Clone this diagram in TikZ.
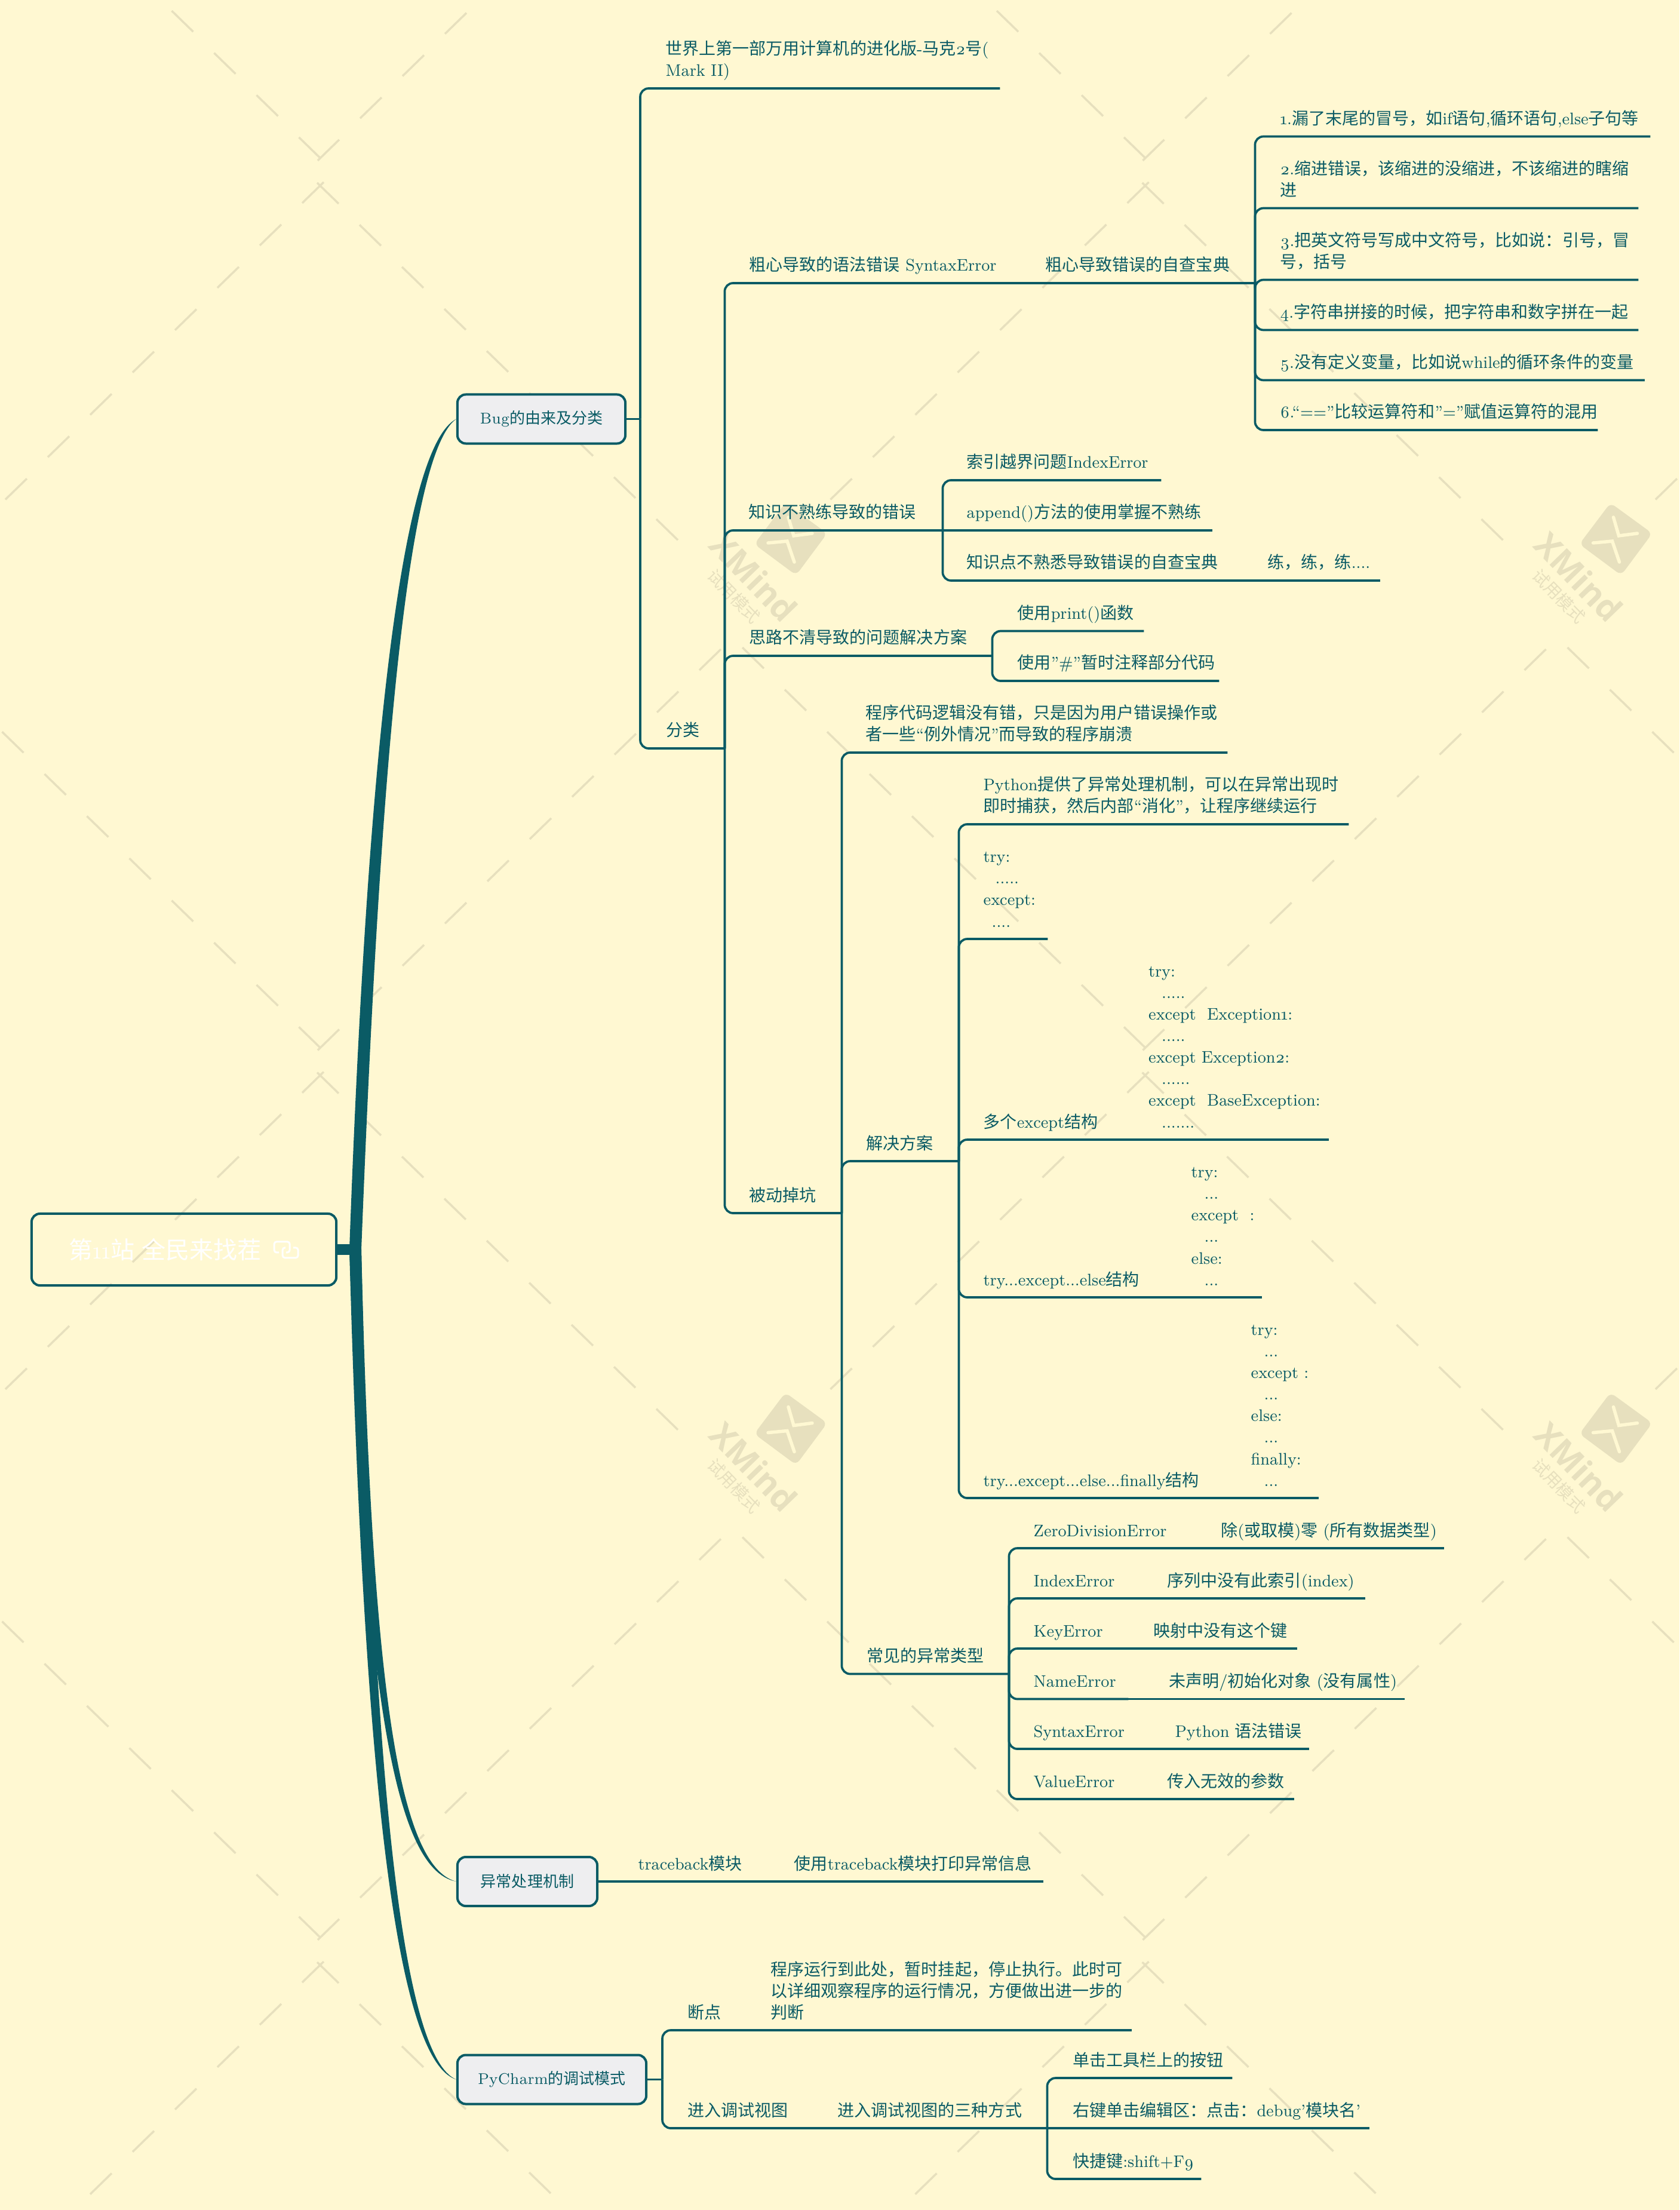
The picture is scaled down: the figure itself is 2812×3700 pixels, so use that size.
\documentclass[tikz,border=0pt]{standalone}
\usepackage{fontspec}
\setmainfont[Numbers=OldStyle,FakeStretch=0.95]{Latin Modern Roman}
\newfontfamily\zhfont{Noto Sans CJK SC}
\newfontfamily\logofont{Open Sans}
\usepackage{xcolor}
\definecolor{paper}{RGB}{255,248,210}
\definecolor{teal}{RGB}{10,91,101}
\definecolor{wmcol}{RGB}{231,224,190}
\definecolor{mainfill}{RGB}{238,238,240}

% Chinese characters switch to the CJK family by themselves
\newcount\zhcode
\def\zhrange#1#2{\zhcode=#1 \loop\XeTeXcharclass\zhcode=10 \ifnum\zhcode<#2 \advance\zhcode by 1 \repeat}
\zhrange{"3000}{"303F}
\zhrange{"4E00}{"9FFF}
\zhrange{"FF00}{"FF60}
\zhcode=33 \loop\XeTeXcharclass\zhcode=0 \ifnum\zhcode<126 \advance\zhcode by 1 \repeat
\XeTeXcharclass"2018=0 \XeTeXcharclass"2019=0 \XeTeXcharclass"201C=0 \XeTeXcharclass"201D=0
\XeTeXinterchartokenstate=1
\XeTeXinterchartoks 0 10 = {\zhfont}
\XeTeXinterchartoks 4095 10 = {\zhfont}
\XeTeXinterchartoks 10 0 = {\rmfamily}
\XeTeXinterchartoks 10 4095 = {\rmfamily}

\usepackage{tikz}

\begin{document}
\begin{tikzpicture}[
  x=0.01cm, y=-0.01cm,
  topic/.style={anchor=south west,text width=#1*0.01cm,inner xsep=0pt,inner ysep=0.085cm,align=left,
    text=teal,font=\fontsize{7.97}{10.24}\selectfont,
    execute at begin node={\rightskip=-1cm plus 1fil\relax\leavevmode\strut},execute at end node={\strut}},
  main/.style={draw=teal,line width=0.04cm,fill=mainfill,rounded corners=0.14cm,text=teal,inner sep=0pt,
    minimum height=0.82cm,font=\fontsize{7.4}{10}\selectfont},
  link/.style={draw=teal,line width=0.037cm,rounded corners=0.14cm},
  trunk/.style={fill=teal},
  wm/.style={draw=wmcol,line width=0.035cm},
  wmtext/.style={text=wmcol,inner sep=0pt}
]
  \useasboundingbox (0,0) rectangle (2812,3700);
  \fill[paper] (0,0) rectangle (2812,3700);

  % Trial watermark, one tile repeated
  \begin{scope}
    \clip (0,0) rectangle (2812,3700);
    \foreach \ix in {-1,0,1,2} \foreach \iy in {-1,0,1,2} {
      \begin{scope}[shift={(\ix*1381.5,\iy*1489.5)}]
        \foreach \k in {0,...,8} \draw[wm] ({531+71*\k},{306+70.4*\k}) -- ++(36,35);
        \foreach \k in {0,...,9} \draw[wm] ({1243+71*\k},{1084+70.6*\k}) -- ++(36,35);
        \foreach \k in {0,...,9} \draw[wm] ({1171-71*\k},{1122+70.7*\k}) -- ++(36,-35);
        \foreach \k in {0,...,7} \draw[wm] ({506-71*\k},{340+70.9*\k}) -- ++(36,-35);
      \end{scope}
    }
    \foreach \ix in {0,1} \foreach \iy in {0,1} {
      \begin{scope}[shift={(\ix*1381.5,\iy*1489.5)}]
        \fill[wmcol,rounded corners=0.09cm] (1315,842) -- (1385,893) -- (1333,963) -- (1263,911) -- cycle;
        \draw[paper,line width=0.055cm,line cap=round] (1320,866) -- (1329,897) -- (1360,893);
        \draw[paper,line width=0.055cm,line cap=round] (1286,909) -- (1318,906) -- (1330,941);
        \node[wmtext,rotate=-46,font=\logofont\bfseries\fontsize{16}{18}\selectfont] (logo\ix\iy) at (1262,966) {XMind};
        \node[wmtext,rotate=-46,font=\fontsize{7.97}{10}\selectfont] (trial\ix\iy) at (1229,998) {试用模式};
      \end{scope}
    }
  \end{scope}

  % Root and main topics
  \node[draw=teal,line width=0.04cm,rounded corners=0.14cm,minimum width=5.1cm,minimum height=1.2cm,inner sep=0pt,
    text=white,font=\fontsize{11.38}{14}\selectfont] (root) at (308,2092) {第11站 全民来找茬\hspace{0.2cm}\tikz[x=0.01cm,y=-0.01cm,baseline=-0.285cm]{
      \draw[white,line width=0.03cm,rounded corners=0.04cm] (8,18) -- (0,18) -- (0,0) -- (26,0) -- (26,18) -- (20,18);
      \draw[white,line width=0.03cm,rounded corners=0.04cm] (19,10) -- (14,10) -- (14,27) -- (40,27) -- (40,10) -- (32,10);
    }};
  \coordinate (hub) at (595,2092);
  \node[main,minimum width=2.81cm] (bugs) at (906.5,701.5) {Bug的由来及分类};
  \node[main,minimum width=2.34cm] (handle) at (883,3150) {异常处理机制};
  \node[main,minimum width=3.16cm] (debug) at (924,3481.5) {PyCharm的调试模式};

  \draw[teal,line width=0.18cm] (root.east) -- (hub);
  \fill[trunk] ([xshift=-0.1cm]hub) .. controls (610,1400) and (660,755) .. (bugs.west) .. controls (674,765) and (632,1400) .. ([xshift=0.1cm]hub) -- cycle;
  \fill[trunk] ([xshift=-0.1cm]hub) .. controls (610,2800) and (655,3130) .. (handle.west) .. controls (664,3124) and (622,2800) .. ([xshift=0.1cm]hub) -- cycle;
  \fill[trunk] ([xshift=-0.1cm]hub) .. controls (610,3000) and (665,3450) .. (debug.west) .. controls (675,3444) and (624,3000) .. ([xshift=0.1cm]hub) -- cycle;

  % Bug branch
  \coordinate (bugsj) at (1072,701.5);
  \node[topic=559] (mark2) at (1114,148) {世界上第一部万用计算机的进化版-马克2号(\\Mark II)};
  \node[topic=97] (sorts) at (1115,1253) {分类};
  \node[topic=446] (careless) at (1254,474) {粗心导致的语法错误 SyntaxError};
  \node[topic=350] (checklist) at (1750,474) {粗心导致错误的自查宝典};
  \node[topic=619] (colon) at (2143,228.5) {1.漏了末尾的冒号，如if语句,循环语句,else子句等};
  \node[topic=599] (indent) at (2143,348.5) {2.缩进错误，该缩进的没缩进，不该缩进的瞎缩\\进};
  \node[topic=599] (symbol) at (2143,468.5) {3.把英文符号写成中文符号，比如说：引号，冒\\号，括号};
  \node[topic=599] (concat) at (2143,552.5) {4.字符串拼接的时候，把字符串和数字拼在一起};
  \node[topic=609.5] (undef) at (2143,636.5) {5.没有定义变量，比如说while的循环条件的变量};
  \node[topic=531] (equal) at (2143,720) {6.“==”比较运算符和”=”赋值运算符的混用};

  \node[topic=324] (skill) at (1253,888) {知识不熟练导致的错误};
  \node[topic=325] (bounds) at (1618,804) {索引越界问题IndexError};
  \node[topic=411] (append) at (1618,888) {append()方法的使用掌握不熟练};
  \node[topic=472] (selfcheck) at (1618,972) {知识点不熟悉导致错误的自查宝典};
  \node[topic=188] (practice) at (2122,972) {练，练，练....};

  \node[topic=406] (idea) at (1254,1098) {思路不清导致的问题解决方案};
  \node[topic=211] (print) at (1703,1056.5) {使用print()函数};
  \node[topic=337] (comment) at (1703,1140) {使用”\#”暂时注释部分代码};

  \node[topic=154] (passive) at (1254,2031) {被动掉坑};
  \node[topic=605] (logic) at (1449,1260) {程序代码逻辑没有错，只是因为用户错误操作或\\者一些“例外情况”而导致的程序崩溃};
  \node[topic=154] (plan) at (1450,1944) {解决方案};
  \node[topic=611] (catch) at (1646,1380) {Python提供了异常处理机制，可以在异常出现时\\即时捕获，然后内部“消化”，让程序继续运行};
  \node[topic=107] (tryplain) at (1646,1572) {try:\\\hspace*{0.2cm}.....\\except:\\\hspace*{0.14cm}....};
  \node[topic=209] (multi) at (1646,1908) {多个except结构};
  \node[topic=301.5] (multicode) at (1922.5,1908) {try:\\\hspace*{0.22cm}.....\\except\ \ Exception1:\\\hspace*{0.22cm}.....\\except Exception2:\\\hspace*{0.22cm}......\\except\ \ BaseException:\\\hspace*{0.22cm}.......};
  \node[topic=280] (tryelse) at (1646,2172) {try...except...else结构};
  \node[topic=118] (elsecode) at (1994,2172) {try:\\\hspace*{0.22cm}...\\except\ \ :\\\hspace*{0.22cm}...\\else:\\\hspace*{0.22cm}...};
  \node[topic=380] (tryfinal) at (1646,2508) {try...except...else...finally结构};
  \node[topic=113] (finalcode) at (2094,2508) {try:\\\hspace*{0.22cm}...\\except :\\\hspace*{0.22cm}...\\else:\\\hspace*{0.22cm}...\\finally:\\\hspace*{0.22cm}...};

  \node[topic=237.5] (types) at (1450.5,2802.5) {常见的异常类型};
  \node[topic=244] (zero) at (1730,2592) {ZeroDivisionError};
  \node[topic=373.5] (zeronote) at (2043.5,2592) {除(或取模)零 (所有数据类型)};
  \node[topic=156] (indexerr) at (1730,2676) {IndexError};
  \node[topic=331] (indexnote) at (1954,2676) {序列中没有此索引(index)};
  \node[topic=132] (keyerr) at (1730,2760) {KeyError};
  \node[topic=239.5] (keynote) at (1931,2760) {映射中没有这个键};
  \node[topic=158] (nameerr) at (1730,2844.5) {NameError};
  \node[topic=394.5] (namenote) at (1956.5,2844.5) {未声明/初始化对象 (没有属性)};
  \node[topic=167] (syntaxerr) at (1730,2928) {SyntaxError};
  \node[topic=224] (syntaxnote) at (1967,2928) {Python 语法错误};
  \node[topic=156] (valueerr) at (1730,3012) {ValueError};
  \node[topic=212] (valuenote) at (1954,3012) {传入无效的参数};

  % Handling branch
  \node[topic=192] (trace) at (1068,3150) {traceback模块};
  \node[topic=417] (tracenote) at (1329,3150) {使用traceback模块打印异常信息};

  % PyCharm branch
  \coordinate (debugj) at (1109,3481.5);
  \node[topic=71] (breakpt) at (1151,3399) {断点};
  \node[topic=604] (breaknote) at (1290,3399) {程序运行到此处，暂时挂起，停止执行。此时可\\以详细观察程序的运行情况，方便做出进一步的\\判断};
  \node[topic=183] (enter) at (1151,3563) {进入调试视图};
  \node[topic=350] (ways) at (1402,3563) {进入调试视图的三种方式};
  \node[topic=266.5] (toolbar) at (1795.5,3479) {单击工具栏上的按钮};
  \node[topic=496.5] (rightkey) at (1795.5,3563) {右键单击编辑区：点击：debug’模块名’};
  \node[topic=214.5] (shortcut) at (1795.5,3648) {快捷键:shift+F9};

  % Branch lines
  \draw[link] (bugs.east) -- (bugsj);
  \draw[link] (bugsj) |- (mark2.south east);
  \draw[link] (bugsj) |- (sorts.south east);
  \draw[link] (sorts.south east) |- (careless.south east);
  \draw[link] (sorts.south east) |- (skill.south east);
  \draw[link] (sorts.south east) |- (idea.south east);
  \draw[link] (sorts.south east) |- (passive.south east);
  \draw[link] (careless.south east) -- (checklist.south east);
  \foreach \t in {colon,indent,symbol,concat,undef,equal}
    \draw[link] (checklist.south east) |- (\t.south east);
  \draw[link] (skill.south east) |- (bounds.south east);
  \draw[link] (skill.south east) -- (append.south east);
  \draw[link] (skill.south east) |- (selfcheck.south east);
  \draw[link] (selfcheck.south east) -- (practice.south east);
  \draw[link] (idea.south east) |- (print.south east);
  \draw[link] (idea.south east) |- (comment.south east);
  \draw[link] (passive.south east) |- (logic.south east);
  \draw[link] (passive.south east) |- (plan.south east);
  \draw[link] (passive.south east) |- (types.south east);
  \foreach \t in {catch,tryplain,multi,tryelse,tryfinal}
    \draw[link] (plan.south east) |- (\t.south east);
  \draw[link] (multi.south east) -- (multicode.south east);
  \draw[link] (tryelse.south east) -- (elsecode.south east);
  \draw[link] (tryfinal.south east) -- (finalcode.south east);
  \foreach \t/\n in {zero/zeronote,indexerr/indexnote,keyerr/keynote,nameerr/namenote,syntaxerr/syntaxnote,valueerr/valuenote} {
    \draw[link] (types.south east) |- (\t.south east);
    \draw[link] (\t.south east) -- (\n.south east);
  }
  \draw[link] (handle.east) -- (trace.south east);
  \draw[link] (trace.south east) -- (tracenote.south east);
  \draw[link] (debug.east) -- (debugj);
  \draw[link] (debugj) |- (breakpt.south east);
  \draw[link] (breakpt.south east) -- (breaknote.south east);
  \draw[link] (debugj) |- (enter.south east);
  \draw[link] (enter.south east) -- (ways.south east);
  \draw[link] (ways.south east) |- (toolbar.south east);
  \draw[link] (ways.south east) -- (rightkey.south east);
  \draw[link] (ways.south east) |- (shortcut.south east);
\end{tikzpicture}
\end{document}
